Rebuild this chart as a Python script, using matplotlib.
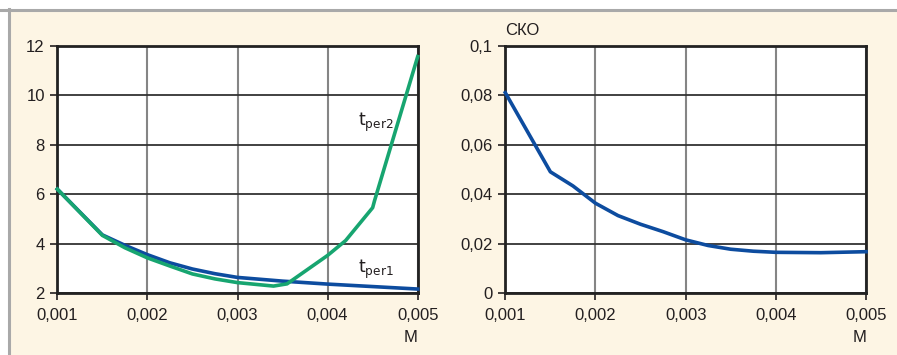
import matplotlib
matplotlib.use("Agg")
import matplotlib.pyplot as plt
from matplotlib.patches import Rectangle
from matplotlib.lines import Line2D
from matplotlib.ticker import FuncFormatter

# ---- data -------------------------------------------------------------
m_per1 = [0.001, 0.0015, 0.00175, 0.002, 0.00225, 0.0025, 0.00275, 0.003,
          0.0035, 0.004, 0.0045, 0.005]
t_per1 = [6.2, 4.35, 3.93, 3.55, 3.22, 2.97, 2.78, 2.63, 2.48, 2.36, 2.26, 2.16]

m_per2 = [0.001, 0.0015, 0.00175, 0.002, 0.00225, 0.0025, 0.00275, 0.003,
          0.0034, 0.00355, 0.004, 0.0042, 0.0045, 0.00452, 0.005]
t_per2 = [6.2, 4.33, 3.83, 3.42, 3.09, 2.77, 2.57, 2.42,
          2.28, 2.37, 3.52, 4.12, 5.45, 5.72, 11.56]

m_sko = [0.001, 0.0015, 0.00175, 0.002, 0.00225, 0.0025, 0.00275, 0.003,
         0.00325, 0.0035, 0.00375, 0.004, 0.0045, 0.005]
sko = [0.081, 0.049, 0.0433, 0.0363, 0.0313, 0.0278, 0.0248, 0.0215,
       0.0192, 0.0177, 0.0169, 0.01645, 0.0163, 0.0167]

x_ticks = [0.001, 0.002, 0.003, 0.004, 0.005]
left_yticks = [2, 4, 6, 8, 10, 12]
right_yticks = [0, 0.02, 0.04, 0.06, 0.08, 0.1]

# ---- style ------------------------------------------------------------
FONT = ["Liberation Sans Narrow", "Liberation Sans", "DejaVu Sans"]
plt.rcParams["font.family"] = FONT
plt.rcParams["mathtext.fontset"] = "custom"
plt.rcParams["mathtext.rm"] = FONT[0]
plt.rcParams["mathtext.it"] = FONT[0]

CREAM = "#fdf5e4"
BLUE = "#0d4c9f"
GREEN = "#17a570"
TEXT = "#231f20"
HGRID = "#333333"
VGRID = "#858585"
FS = 12

fig = plt.figure(figsize=(8.97, 3.55), dpi=100, facecolor="white")

# panel background with thin grey frame on top and left
W, H = 897, 355
fig.patches.append(Rectangle((9 / W, 0), 1 - 9 / W, 1 - 10 / H,
                             transform=fig.transFigure, facecolor=CREAM,
                             edgecolor="none", zorder=-10))
fig.lines.append(Line2D([0, 1], [1 - 10 / H, 1 - 10 / H], transform=fig.transFigure,
                        color="#a9a9a9", lw=2.2, zorder=-5))
fig.lines.append(Line2D([8.5 / W, 8.5 / W], [0, 1 - 9 / H], transform=fig.transFigure,
                        color="#a9a9a9", lw=2.2, zorder=-5))


def comma(fmt):
    return FuncFormatter(lambda v, p: fmt(v).replace(".", ","))


def style_axes(ax, yticks, yfmt):
    ax.set_facecolor("white")
    ax.set_xlim(0.001, 0.005)
    ax.set_xticks(x_ticks)
    ax.set_yticks(yticks)
    ax.set_ylim(yticks[0], yticks[-1])
    ax.xaxis.set_major_formatter(comma(lambda v: f"{v:.3f}"))
    ax.yaxis.set_major_formatter(comma(yfmt))
    ax.tick_params(direction="out", length=5, width=1.2, colors=TEXT,
                   labelsize=FS, pad=4)
    ax.tick_params(axis="x", pad=6)
    for s in ax.spines.values():
        s.set_linewidth(2)
        s.set_color("#222222")
    ax.xaxis.grid(True, color=VGRID, lw=1.5)
    ax.yaxis.grid(True, color=HGRID, lw=1.3)
    ax.set_axisbelow(True)
    ax.set_xlabel("M", loc="right", fontsize=FS, color=TEXT, labelpad=5)


ax1 = fig.add_axes([57.3 / W, 62 / H, 360.4 / W, 247.3 / H])
ax2 = fig.add_axes([505.3 / W, 62 / H, 360.7 / W, 247.3 / H])

style_axes(ax1, left_yticks, lambda v: f"{v:g}")
style_axes(ax2, right_yticks, lambda v: f"{v:g}")

ax1.plot(m_per1, t_per1, color=BLUE, lw=2.6, solid_joinstyle="round",
         clip_on=False, zorder=3)
ax1.plot(m_per2, t_per2, color=GREEN, lw=2.6, solid_joinstyle="round",
         clip_on=False, zorder=4)
ax2.plot(m_sko, sko, color=BLUE, lw=2.6, solid_joinstyle="round",
         clip_on=False, zorder=3)

ax1.text(0.00434, 8.9, r"$\mathrm{t_{per2}}$", fontsize=12.5, color=TEXT,
         ha="left", va="center")
ax1.text(0.00434, 2.95, r"$\mathrm{t_{per1}}$", fontsize=12.5, color=TEXT,
         ha="left", va="center")

ax2.text(0.0, 1.03, "СКО", transform=ax2.transAxes, fontsize=FS,
         color=TEXT, ha="left", va="bottom")

fig.savefig("out.png", dpi=100, facecolor=fig.get_facecolor())
